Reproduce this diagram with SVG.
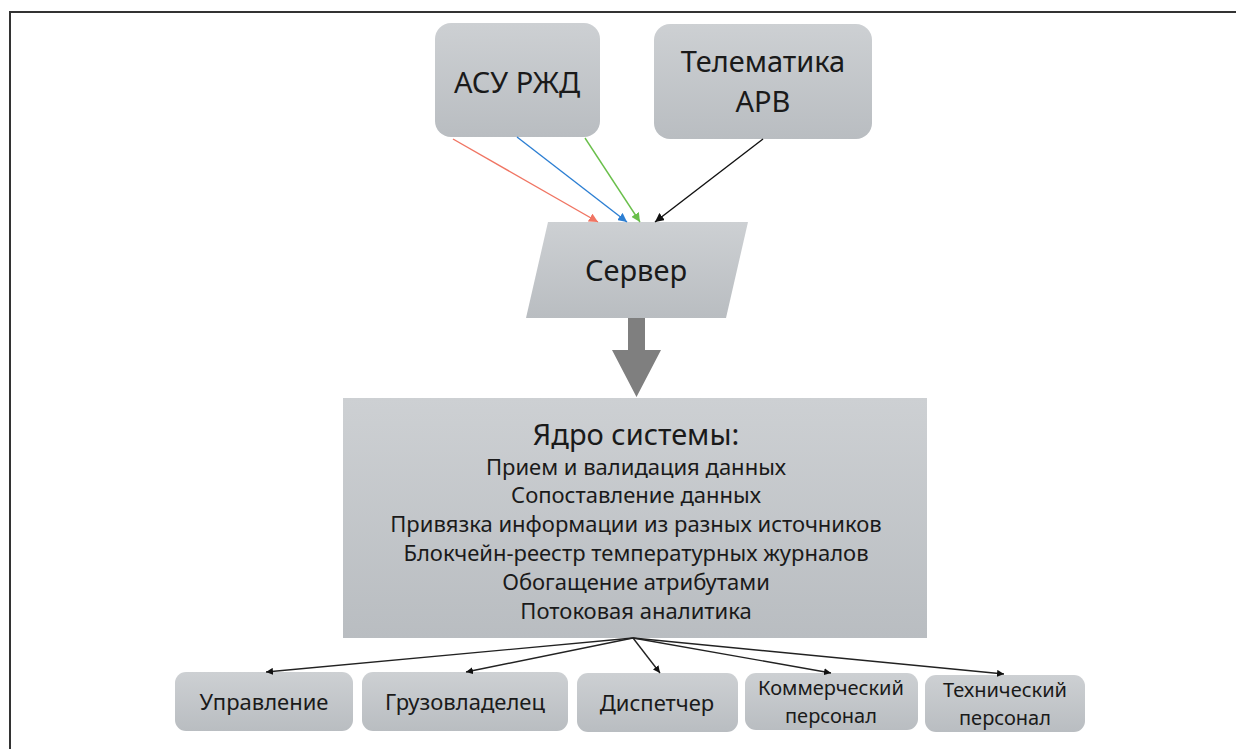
<svg xmlns="http://www.w3.org/2000/svg" width="1236" height="749" viewBox="0 0 1236 749">
<style>
.t{font-family:"Noto Sans","Open Sans","DejaVu Sans",sans-serif;fill:#1a1a1a;text-anchor:middle}
.box{fill:url(#g)}
.ln{fill:none;stroke-width:1.4}
</style>
<defs>
<linearGradient id="g" x1="0" y1="0" x2="0" y2="1">
<stop offset="0" stop-color="#cdd0d3"/>
<stop offset="1" stop-color="#b9bdc1"/>
</linearGradient>
<marker id="mk" viewBox="0 0 10 10" refX="10" refY="5" markerWidth="7" markerHeight="7" orient="auto" markerUnits="userSpaceOnUse"><path d="M0,0 L10,5 L0,10 z" fill="#111"/></marker>
<marker id="mr" viewBox="0 0 10 10" refX="10" refY="5" markerWidth="9" markerHeight="9" orient="auto" markerUnits="userSpaceOnUse"><path d="M0,0 L10,5 L0,10 z" fill="#f07563"/></marker>
<marker id="mb" viewBox="0 0 10 10" refX="10" refY="5" markerWidth="9" markerHeight="9" orient="auto" markerUnits="userSpaceOnUse"><path d="M0,0 L10,5 L0,10 z" fill="#2d7fd3"/></marker>
<marker id="mg" viewBox="0 0 10 10" refX="10" refY="5" markerWidth="9" markerHeight="9" orient="auto" markerUnits="userSpaceOnUse"><path d="M0,0 L10,5 L0,10 z" fill="#6abf4b"/></marker>
<marker id="mk2" viewBox="0 0 10 10" refX="10" refY="5" markerWidth="9" markerHeight="9" orient="auto" markerUnits="userSpaceOnUse"><path d="M0,0 L10,5 L0,10 z" fill="#111"/></marker>
</defs>
<rect width="1236" height="749" fill="#fff"/>
<g id="frame" stroke="#333" stroke-width="2" fill="none">
<path d="M10,749 V12 H1236"/>
</g>
<g id="asu">
<rect class="box" x="435" y="23" width="165" height="114" rx="16"/>
<text class="t" x="517" y="93" font-size="29">АСУ РЖД</text>
</g>
<g id="telematika">
<rect class="box" x="654" y="24" width="218" height="115" rx="16"/>
<text class="t" x="763" y="72" font-size="29">Телематика</text>
<text class="t" x="763" y="112" font-size="29">АРВ</text>
</g>
<g id="server">
<path class="box" d="M548,222 H748 L726,318 H526 z"/>
<text class="t" x="636" y="281" font-size="29">Сервер</text>
</g>
<g id="core">
<rect class="box" x="343" y="398" width="584" height="240"/>
<text class="t" x="636" y="445" font-size="29">Ядро системы:</text>
<text class="t" x="636" y="475" font-size="22">Прием и валидация данных</text>
<text class="t" x="636" y="503" font-size="22">Сопоставление данных</text>
<text class="t" x="636" y="532" font-size="22">Привязка информации из разных источников</text>
<text class="t" x="636" y="561" font-size="22">Блокчейн-реестр температурных журналов</text>
<text class="t" x="636" y="590" font-size="22">Обогащение атрибутами</text>
<text class="t" x="636" y="619" font-size="22">Потоковая аналитика</text>
</g>
<g id="upravlenie">
<rect class="box" x="175" y="672" width="178" height="59" rx="11"/>
<text class="t" x="264" y="710" font-size="22">Управление</text>
</g>
<g id="gruzovladelec">
<rect class="box" x="362" y="672" width="206" height="59" rx="11"/>
<text class="t" x="465" y="710" font-size="22">Грузовладелец</text>
</g>
<g id="dispetcher">
<rect class="box" x="577" y="673" width="161" height="59" rx="11"/>
<text class="t" x="657" y="711" font-size="22">Диспетчер</text>
</g>
<g id="kommercheskiy">
<rect class="box" x="745" y="673" width="173" height="57" rx="11"/>
<text class="t" x="831" y="695" font-size="20">Коммерческий</text>
<text class="t" x="831" y="723" font-size="20">персонал</text>
</g>
<g id="tehnicheskiy">
<rect class="box" x="925" y="675" width="160" height="57" rx="11"/>
<text class="t" x="1005" y="697" font-size="20">Технический</text>
<text class="t" x="1005" y="725" font-size="20">персонал</text>
</g>
<g id="connectors">
<line class="ln" x1="453" y1="139" x2="598" y2="222" stroke="#f07563" marker-end="url(#mr)"/>
<line class="ln" x1="517" y1="137" x2="627" y2="222" stroke="#2d7fd3" marker-end="url(#mb)"/>
<line class="ln" x1="585" y1="138" x2="640" y2="222" stroke="#6abf4b" marker-end="url(#mg)"/>
<line class="ln" x1="763" y1="139" x2="655" y2="222" stroke="#111" marker-end="url(#mk2)"/>
<path d="M628,318 H645 V350 H661 L636.5,397 L612,350 H628 z" fill="#7f7f7f"/>
<line class="ln" x1="633" y1="638" x2="266" y2="672" stroke="#222" stroke-width="1" marker-end="url(#mk)"/>
<line class="ln" x1="633" y1="638" x2="466" y2="672" stroke="#222" stroke-width="1" marker-end="url(#mk)"/>
<line class="ln" x1="633" y1="638" x2="660" y2="673" stroke="#222" stroke-width="1" marker-end="url(#mk)"/>
<line class="ln" x1="633" y1="638" x2="831" y2="673" stroke="#222" stroke-width="1" marker-end="url(#mk)"/>
<line class="ln" x1="633" y1="638" x2="1004" y2="674" stroke="#222" stroke-width="1" marker-end="url(#mk)"/>
</g>
</svg>
